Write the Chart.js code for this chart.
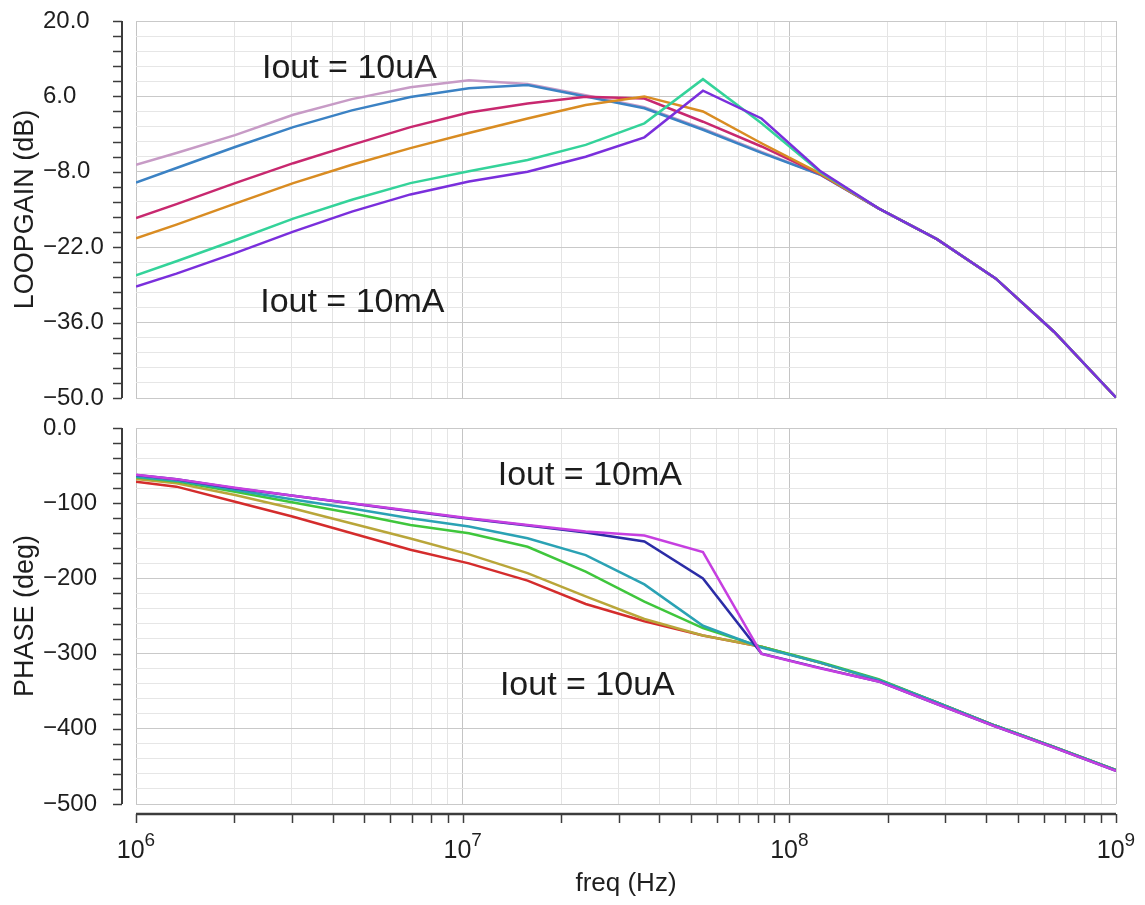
<!DOCTYPE html>
<html>
<head>
<meta charset="utf-8">
<title>Loop gain and phase vs frequency</title>
<script src="https://cdn.jsdelivr.net/npm/chart.js@4/dist/chart.umd.min.js"></script>
<style>
  html, body { margin: 0; padding: 0; background: #fff; }
  #wrap { position: relative; width: 1145px; height: 905px; overflow: hidden; background: #fff; }
  #wrap canvas { position: absolute; left: 0; }
  #gain { top: 0; }
  #phase { top: 400px; }
</style>
</head>
<body>
<div id="wrap">
  <canvas id="gain" width="1145" height="420"></canvas>
  <canvas id="phase" width="1145" height="505"></canvas>
</div>
<script>
// Sweep frequencies (Hz)
const freqHz = [1e6, 1.33e6, 2.01e6, 3.03e6, 4.58e6, 6.92e6, 1.045e7, 1.58e7, 2.38e7, 3.6e7,
                5.44e7, 8.22e7, 1.24e8, 1.875e8, 2.83e8, 4.28e8, 6.46e8, 1e9];

// Loop gain (dB), one curve per output current, 10uA first
const gainA = [-6.7, -4.5, -1.2, 2.6, 5.5, 7.7, 9.0, 8.3, 6.2, 4.0, 0.0, -4.3, -8.5, -14.8, -20.5, -27.8, -37.7, -49.9];
const gainB = [-10.0, -7.3, -3.4, 0.3, 3.4, 5.9, 7.5, 8.1, 6.0, 3.8, -0.2, -4.5, -8.5, -14.8, -20.5, -27.8, -37.7, -49.9];
const gainC = [-16.6, -14.0, -10.1, -6.4, -3.0, 0.3, 3.0, 4.7, 5.95, 5.6, 1.3, -3.3, -8.4, -14.8, -20.5, -27.8, -37.7, -49.9];
const gainD = [-20.35, -17.8, -13.9, -10.1, -6.7, -3.6, -0.8, 1.9, 4.4, 6.0, 3.2, -2.7, -8.3, -14.8, -20.5, -27.8, -37.7, -49.9];
const gainE = [-27.2, -24.6, -20.7, -16.7, -13.2, -10.1, -7.9, -5.8, -3.0, 1.0, 9.2, 1.0, -8.0, -14.8, -20.5, -27.8, -37.7, -49.9];
const gainF = [-29.3, -26.9, -23.1, -19.1, -15.4, -12.2, -9.8, -8.0, -5.2, -1.6, 7.05, 1.9, -7.8, -14.8, -20.5, -27.8, -37.7, -49.9];

// Loop phase (deg), 10mA first
const phaseA = [-62, -68, -79.5, -90, -100, -110, -120, -129, -137.5, -143, -165, -300.5, -319.5, -337, -367, -397, -425, -456];
const phaseB = [-62.5, -68.3, -80, -90.2, -100.3, -110.6, -120.8, -129.5, -139, -151, -200, -300, -319, -337, -367, -397, -425, -456];
const phaseC = [-64.7, -70, -82.5, -95, -107, -120, -131, -146.7, -169, -208, -263, -292, -312, -335, -365, -396, -424, -455];
const phaseD = [-65.6, -71, -84.7, -99, -113.5, -129, -140, -158, -191, -231, -266, -291, -311, -334, -365, -396, -424, -455];
const phaseE = [-67.8, -73.6, -89, -107, -127, -147, -168, -193, -224, -254, -276, -291, -312, -335, -365, -396, -424, -455];
const phaseF = [-71.4, -78, -98, -118, -140, -162, -180, -203, -234, -257, -276, -291, -312, -335, -365, -396, -424, -455];

// Axis tick values and labels
const gainTicks = [20, 6, -8, -22, -36, -50];
const gainTickLabels = ['20.0', '6.0', '\u22128.0', '\u221222.0', '\u221236.0', '\u221250.0'];
const phaseTicks = [0, -100, -200, -300, -400, -500];
const phaseTickLabels = ['0.0', '\u2212100', '\u2212200', '\u2212300', '\u2212400', '\u2212500'];
const decadeExponents = [6, 7, 8, 9];

const gainColors = ['#c79bc6', '#3b82c4', '#c8286f', '#d98c22', '#34d39a', '#7a2fdc'];
const phaseColors = ['#c63fe0', '#2b2ca6', '#2aa2b4', '#3fc63c', '#b9a63a', '#d42c2c'];

// Text annotations, anchored in data units
const gainNotes = [
  { text: 'Iout = 10uA', f: 2.43e6, v: 9.4 },
  { text: 'Iout = 10mA', f: 2.40e6, v: -34.0 }
];
const phaseNotes = [
  { text: 'Iout = 10mA', f: 1.28e7, v: -76 },
  { text: 'Iout = 10uA', f: 1.30e7, v: -355 }
];

const FONT = "'Liberation Sans', Arial, sans-serif";

// Minor tick values: 1..9 per decade on x, five subdivisions per labelled step on y
function logTicks(lo, hi) {
  const out = [];
  for (let e = lo; e < hi; e++) for (let m = 1; m < 10; m++) out.push(m * Math.pow(10, e));
  out.push(Math.pow(10, hi));
  return out;
}
function linTicks(major) {
  const out = [];
  for (let i = 0; i < major.length - 1; i++) {
    const step = (major[i + 1] - major[i]) / 5;
    for (let k = 0; k < 5; k++) out.push(+(major[i] + k * step).toFixed(3));
  }
  out.push(major[major.length - 1]);
  return out;
}
const isDecade = v => Math.abs(Math.log10(v) - Math.round(Math.log10(v))) < 1e-6;

function series(values) { return values.map((v, i) => ({ x: freqHz[i], y: v })); }

function makeDatasets(list, colors) {
  // lower order is painted later, so the first entry ends up on top
  return list.map((vals, i) => ({
    data: series(vals),
    borderColor: colors[i],
    borderWidth: 2.5,
    pointRadius: 0,
    tension: 0,
    fill: false,
    order: i
  }));
}

// Offset axis line with outward tick marks, plus decade labels on the frequency axis
const axisFrame = {
  id: 'axisFrame',
  afterDraw(chart, args, opts) {
    const { ctx, chartArea: a, scales } = chart;
    ctx.save();
    ctx.strokeStyle = '#3c3c3c';
    const ys = scales.y;
    const ax = a.left - 14;
    ctx.lineWidth = 2;
    ctx.beginPath(); ctx.moveTo(ax, a.top); ctx.lineTo(ax, a.bottom); ctx.stroke();
    ctx.lineWidth = 1.5;
    ys.ticks.forEach(t => {
      const py = Math.round(ys.getPixelForValue(t.value)) + 0.5;
      ctx.beginPath(); ctx.moveTo(ax - 9, py); ctx.lineTo(ax, py); ctx.stroke();
    });
    if (opts.freqAxis) {
      const xs = scales.x;
      const ay = a.bottom + 10;
      ctx.lineWidth = 2.5;
      ctx.beginPath(); ctx.moveTo(a.left, ay); ctx.lineTo(a.right, ay); ctx.stroke();
      ctx.lineWidth = 1.5;
      xs.ticks.forEach(t => {
        const px = Math.round(xs.getPixelForValue(t.value)) + 0.5;
        ctx.beginPath(); ctx.moveTo(px, ay); ctx.lineTo(px, ay + 9); ctx.stroke();
      });
      ctx.fillStyle = '#1e1e1e';
      ctx.textAlign = 'left';
      ctx.textBaseline = 'alphabetic';
      decadeExponents.forEach(e => {
        const px = xs.getPixelForValue(Math.pow(10, e));
        ctx.font = '25px ' + FONT;
        const wBase = ctx.measureText('10').width;
        ctx.font = '19px ' + FONT;
        const wExp = ctx.measureText(String(e)).width;
        const x0 = px - (wBase + wExp) / 2;
        ctx.font = '25px ' + FONT;
        ctx.fillText('10', x0, ay + 44);
        ctx.font = '19px ' + FONT;
        ctx.fillText(String(e), x0 + wBase, ay + 32);
      });
    }
    ctx.restore();
  }
};

const notesPlugin = {
  id: 'notes',
  afterDatasetsDraw(chart, args, opts) {
    const { ctx, scales } = chart;
    ctx.save();
    ctx.font = '34px ' + FONT;
    ctx.fillStyle = '#1c1c1c';
    ctx.textAlign = 'left';
    ctx.textBaseline = 'alphabetic';
    (opts.items || []).forEach(n => {
      ctx.fillText(n.text, scales.x.getPixelForValue(n.f), scales.y.getPixelForValue(n.v));
    });
    ctx.restore();
  }
};

function buildChart(id, cfg) {
  const yMajor = cfg.yTicks;
  return new Chart(document.getElementById(id), {
    type: 'line',
    data: { datasets: makeDatasets(cfg.series, cfg.colors) },
    options: {
      responsive: false,
      devicePixelRatio: 1,
      animation: false,
      events: [],
      layout: { padding: cfg.padding },
      plugins: {
        legend: { display: false },
        tooltip: { enabled: false },
        axisFrame: { freqAxis: cfg.freqAxis },
        notes: { items: cfg.notes }
      },
      scales: {
        x: {
          type: 'logarithmic',
          min: 1e6,
          max: 1e9,
          afterBuildTicks: s => { s.ticks = logTicks(6, 9).map(v => ({ value: v, major: isDecade(v) })); },
          afterFit: s => { s.height = cfg.xHeight; },
          ticks: { display: false },
          border: { display: false },
          grid: {
            drawTicks: false,
            lineWidth: 1,
            color: c => (c.tick && isDecade(c.tick.value)) ? '#c4c4c4' : '#e4e4e4'
          },
          title: cfg.freqAxis ? {
            display: true,
            text: 'freq (Hz)',
            color: '#1e1e1e',
            font: { family: FONT, size: 26 },
            padding: { top: 0, bottom: 6 }
          } : { display: false }
        },
        y: {
          type: 'linear',
          min: yMajor[yMajor.length - 1],
          max: yMajor[0],
          afterBuildTicks: s => { s.ticks = linTicks(yMajor).map(v => ({ value: v })); },
          // labels start at the left edge of a 93px box that ends where the plot begins
          afterFit: s => { s.width = 93; },
          border: { display: false },
          grid: {
            drawTicks: false,
            lineWidth: 1,
            color: c => (c.tick && yMajor.includes(c.tick.value)) ? '#c9c9c9' : '#e6e6e6'
          },
          ticks: {
            crossAlign: 'far',
            padding: 0,
            color: '#1e1e1e',
            font: { family: FONT, size: 24 },
            autoSkip: false,
            callback: v => {
              const i = yMajor.indexOf(v);
              return i >= 0 ? cfg.yLabels[i] : '';
            }
          },
          title: {
            display: true,
            text: cfg.yTitle,
            color: '#1e1e1e',
            font: { family: FONT, size: 27 },
            // pulls the title out to the left margin of the canvas
            padding: { top: -34, bottom: 0 }
          }
        }
      }
    },
    plugins: [axisFrame, notesPlugin]
  });
}

buildChart('gain', {
  series: [gainF, gainE, gainD, gainC, gainB, gainA],
  colors: [gainColors[5], gainColors[4], gainColors[3], gainColors[2], gainColors[1], gainColors[0]],
  yTicks: gainTicks,
  yLabels: gainTickLabels,
  yTitle: 'LOOPGAIN (dB)',
  notes: gainNotes,
  freqAxis: false,
  xHeight: 0,
  padding: { top: 21, bottom: 22, left: 43, right: 29 }
});

buildChart('phase', {
  series: [phaseA, phaseB, phaseC, phaseD, phaseE, phaseF],
  colors: phaseColors,
  yTicks: phaseTicks,
  yLabels: phaseTickLabels,
  yTitle: 'PHASE (deg)',
  notes: phaseNotes,
  freqAxis: true,
  xHeight: 101,
  padding: { top: 28, bottom: 0, left: 43, right: 29 }
});
</script>
</body>
</html>
